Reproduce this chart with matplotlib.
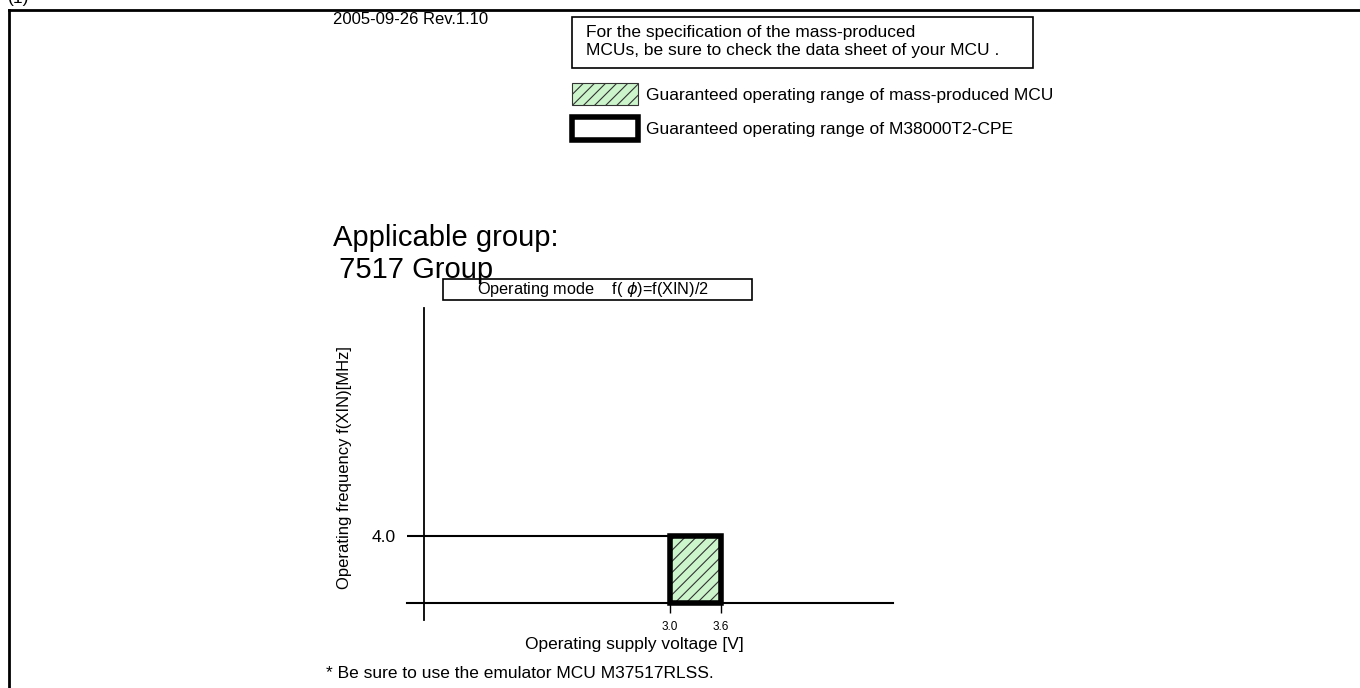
import matplotlib
matplotlib.use("Agg")
import matplotlib.pyplot as plt
from matplotlib.patches import Rectangle, Patch

plt.rcParams["font.family"] = ["Liberation Sans", "DejaVu Sans"]
plt.rcParams["hatch.linewidth"] = 0.8

# data
v_min, v_max = 3.0, 3.6          # supply voltage range [V]
f_max = 4.0                       # max frequency [MHz]
x_ticks = [3.0, 3.6]
x_tick_labels = ["3.0", "3.6"]
y_ticks = [4.0]
y_tick_labels = ["4.0"]
legend_labels = ["Guaranteed operating range of mass-produced MCU",
                 "Guaranteed operating range of M38000T2-CPE"]
green = "#ccf5cc"
fs = 12.5

W, H = 1360, 688
fig = plt.figure(figsize=(W / 100, H / 100), dpi=100)

# overlay in pixel coords for the page decorations
ov = fig.add_axes([0, 0, 1, 1])
ov.set_xlim(0, W)
ov.set_ylim(H, 0)
ov.axis("off")

ov.plot([9, W], [10, 10], color="black", lw=2)
ov.plot([9, 9], [10, H], color="black", lw=2)
ov.text(8, 3, "(1)", fontsize=fs, va="baseline")
ov.text(333, 20, "2005-09-26 Rev.1.10", fontsize=12, va="center")

ov.add_patch(Rectangle((572, 17), 461, 51, fill=False, lw=1.2, ec="black"))
ov.text(586, 33, "For the specification of the mass-produced", fontsize=fs, va="center")
ov.text(586, 51, "MCUs, be sure to check the data sheet of your MCU .", fontsize=fs, va="center")

ov.text(333, 238, "Applicable group:", fontsize=21, va="center")
ov.text(331, 270, " 7517 Group", fontsize=21, va="center")

ov.add_patch(Rectangle((443, 279), 309, 21, fill=False, lw=1.2, ec="black"))
ov.text(593, 289.5, "Operating mode    f( $\\phi$)=f(XIN)/2", fontsize=11.7,
        ha="center", va="center")

ov.text(326, 674, "* Be sure to use the emulator MCU M37517RLSS.", fontsize=fs, va="center")

# chart axes: x 407..893 px, y 308..620 px
ax = fig.add_axes([407 / W, 1 - 620 / H, 486 / W, 312 / H])
ax.set_xlim(-0.094, 5.624)
ax.set_ylim(-1.0, 17.6)
ax.patch.set_alpha(0)
for s in ["top", "right"]:
    ax.spines[s].set_visible(False)
ax.spines["left"].set_position(("data", 0.106))
ax.spines["bottom"].set_position(("data", 0))
ax.spines["left"].set_linewidth(1.3)
ax.spines["bottom"].set_linewidth(1.5)

ax.hlines(f_max, 0.106, v_min, color="black", lw=1.5)

ax.bar(v_min, f_max, width=v_max - v_min, align="edge", color=green,
       edgecolor="#333333", hatch="///", lw=0, zorder=3)
ax.bar(v_min, f_max, width=v_max - v_min, align="edge", fill=False,
       edgecolor="black", lw=4, zorder=4)

ax.set_xticks(x_ticks, x_tick_labels, fontsize=8.5)
ax.set_yticks(y_ticks, y_tick_labels, fontsize=fs)
ax.tick_params(axis="x", direction="out", length=7.5, width=1, pad=5)
ax.tick_params(axis="y", direction="out", length=12.5, width=1.5, pad=8)

ax.set_xlabel("Operating supply voltage [V]", fontsize=fs)
ax.xaxis.set_label_coords(0.467, -0.053)
ax.set_ylabel("Operating frequency f(XIN)[MHz]", fontsize=12)
ax.yaxis.set_label_coords(-0.113, 0.49)

handles = [Patch(facecolor=green, edgecolor="#333333", hatch="///", lw=0.8),
           Patch(facecolor="white", edgecolor="black", lw=4)]
fig.legend(handles, legend_labels, loc="upper left",
           bbox_to_anchor=(572 / W, 1 - 83 / H), frameon=False, fontsize=fs,
           handlelength=3.8, handleheight=1.6, handletextpad=0.46,
           labelspacing=0.7, borderpad=0, borderaxespad=0)

fig.savefig("out.png", dpi=100)
